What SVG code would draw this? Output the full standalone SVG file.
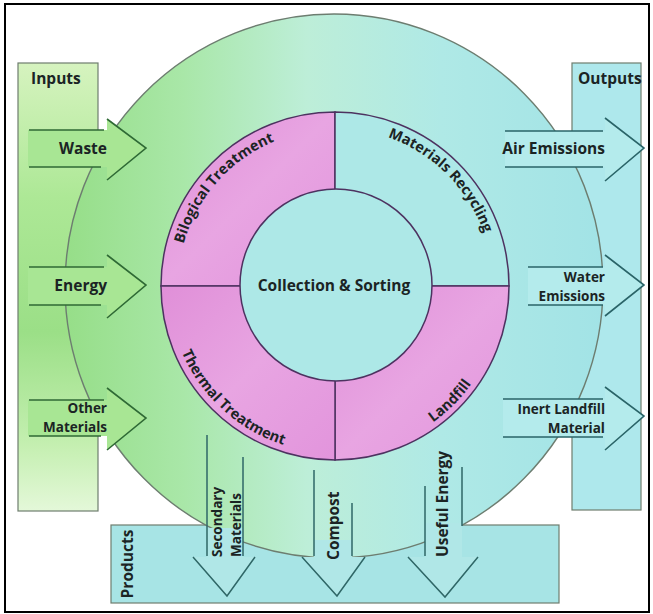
<svg xmlns="http://www.w3.org/2000/svg" width="653" height="614" viewBox="0 0 653 614">
<defs>
<linearGradient id="gIn" x1="0" y1="0" x2="0" y2="1">
<stop offset="0" stop-color="#d6f3bf"/><stop offset="0.3" stop-color="#ade896"/><stop offset="0.6" stop-color="#9bdf87"/><stop offset="0.85" stop-color="#c4efb0"/><stop offset="1" stop-color="#e4f8d9"/>
</linearGradient>
<linearGradient id="gCircle" x1="0" y1="0" x2="1" y2="0">
<stop offset="0" stop-color="#96de88"/><stop offset="0.22" stop-color="#a9e7a8"/><stop offset="0.45" stop-color="#bdeed8"/><stop offset="0.7" stop-color="#afe9e6"/><stop offset="1" stop-color="#a2e3e6"/>
</linearGradient>
<linearGradient id="gPink" x1="0" y1="0" x2="1" y2="1">
<stop offset="0" stop-color="#e08fd8"/><stop offset="0.5" stop-color="#e8a5e2"/><stop offset="1" stop-color="#e294dc"/>
</linearGradient>
<style>
text{font-family:"Open Sans","Noto Sans","Liberation Sans",sans-serif;font-weight:700;font-size:15.5px;fill:#1b2424}
.two{font-size:13.5px}
.rl{font-size:14.5px}
.col{stroke:#6e7d6e;stroke-width:1.2}
.inA{fill:#a8e694;stroke:none}
.inL{fill:none;stroke:#2f6a35;stroke-width:1.6}
.outA{fill:#b4ebec;stroke:none}
.outL{fill:none;stroke:#2a6468;stroke-width:1.6}
.botA{fill:#b0e7e7;stroke:none}
.botL{fill:none;stroke:#2f6767;stroke-width:1.5}
.ring{stroke:#4d3260;stroke-width:1.5}
.pink{fill:url(#gPink)}
.cyan{fill:#ade8e7}
</style>
<path id="pBio" d="M178,286 A157,157 0 0 1 335,129"/>
<path id="pMat" d="M335,128 A158,158 0 0 1 493,286"/>
<path id="pTher" d="M168,286 A167,167 0 0 0 335,453"/>
<path id="pLand" d="M335,454 A168,168 0 0 0 503,286"/>
</defs>
<rect x="0" y="0" width="653" height="614" fill="#ffffff"/>
<rect x="5" y="4" width="644" height="608" fill="none" stroke="#000" stroke-width="2"/>

<g id="inputs">
<rect class="col" x="18" y="63" width="80" height="448" fill="url(#gIn)"/>
<text x="31" y="84">Inputs</text>
</g>
<g id="outputs">
<rect class="col" x="572" y="63" width="69" height="447" fill="#aee8ec" stroke="#5f7a7c"/>
<text x="578" y="84">Outputs</text>
</g>
<g id="products">
<rect class="col" x="111" y="525" width="448" height="78" fill="#a7e4e5" stroke="#567878"/>
<text transform="translate(133,564) rotate(-90)" text-anchor="middle">Products</text>
</g>

<g id="system">
<ellipse cx="334" cy="286" rx="269" ry="272" fill="url(#gCircle)" stroke="#6d7d70" stroke-width="1.4"/>
</g>

<g id="treatment-ring">
<g id="biological-treatment">
<path class="pink ring" d="M335,286 L161,286 A174,174 0 0 1 335,112 Z"/>
<text class="rl"><textPath href="#pBio" startOffset="46%" text-anchor="middle">Bilogical Treatment</textPath></text>
</g>
<g id="materials-recycling">
<path class="cyan ring" d="M335,286 L335,112 A174,174 0 0 1 509,286 Z"/>
<text class="rl"><textPath href="#pMat" startOffset="50%" text-anchor="middle">Materials Recycling</textPath></text>
</g>
<g id="landfill">
<path class="pink ring" d="M335,286 L509,286 A174,174 0 0 1 335,460 Z"/>
<text class="rl"><textPath href="#pLand" startOffset="50%" text-anchor="middle">Landfill</textPath></text>
</g>
<g id="thermal-treatment">
<path class="pink ring" d="M335,286 L335,460 A174,174 0 0 1 161,286 Z"/>
<text class="rl"><textPath href="#pTher" startOffset="53%" text-anchor="middle">Thermal Treatment</textPath></text>
</g>
<g id="collection-sorting">
<circle class="cyan ring" cx="336" cy="285" r="96"/>
<text x="334" y="291" text-anchor="middle" font-size="16.5">Collection &amp; Sorting</text>
</g>
</g>

<g id="connectors">
<g id="arrow-waste">
<polygon class="inA" points="28,130 107,130 107,119 146,148 107,180 107,167 28,167"/>
<path class="inL" d="M29,130 H104 M29,167 H101 M107,119 L146,148 L107,180"/>
<text x="107" y="154" text-anchor="end">Waste</text>
</g>
<g id="arrow-energy">
<polygon class="inA" points="28,267 107,267 107,255 146,285 107,318 107,305 28,305"/>
<path class="inL" d="M29,267 H104 M29,305 H101 M107,255 L146,285 L107,318"/>
<text x="107" y="291" text-anchor="end">Energy</text>
</g>
<g id="arrow-other-materials">
<polygon class="inA" points="28,400 107,400 107,388 146,418 107,450 107,436 28,436"/>
<path class="inL" d="M29,400 H104 M29,436 H101 M107,388 L146,418 L107,450"/>
<text class="two" text-anchor="end"><tspan x="107" y="413">Other</tspan><tspan x="107" y="431.5">Materials</tspan></text>
</g>

<g id="arrow-air-emissions">
<polygon class="outA" points="505,131 605,131 605,118 644,148 605,181 605,167 505,167"/>
<path class="outL" d="M505,131 H603 M505,167 H603 M605,118 L644,148 L605,181"/>
<text x="605" y="154" text-anchor="end">Air Emissions</text>
</g>
<g id="arrow-water-emissions">
<polygon class="outA" points="528,267 605,267 605,255 644,285 605,316 605,305 528,305"/>
<path class="outL" d="M528,267 H603 M528,305 H603 M605,255 L644,285 L605,316"/>
<text class="two" text-anchor="end"><tspan x="605" y="282">Water</tspan><tspan x="605" y="300.5">Emissions</tspan></text>
</g>
<g id="arrow-inert-landfill">
<polygon class="outA" points="503,399 605,399 605,387 644,416 605,450 605,437 503,437"/>
<path class="outL" d="M503,399 H603 M503,437 H603 M605,387 L644,416 L605,450"/>
<text class="two" text-anchor="end"><tspan x="605" y="414">Inert Landfill</tspan><tspan x="605" y="432.5">Material</tspan></text>
</g>

<g id="arrow-secondary-materials">
<polygon class="botA" points="207,528 243,528 243,557 255,557 227,596 193,557 207,557"/>
<path class="botL" d="M207,435 V556 M243,457 V556 M193,557 L227,596 L255,557"/>
<text class="two" transform="translate(222,557) rotate(-90)"><tspan x="0" y="0">Secondary</tspan><tspan x="0" y="18.5">Materials</tspan></text>
</g>
<g id="arrow-compost">
<polygon class="botA" points="314,540 352,540 352,557 365,557 337,596 302,557 314,557"/>
<path class="botL" d="M314,470 V556 M352,503 V556 M302,557 L337,596 L365,557"/>
<text transform="translate(339,560) rotate(-90)">Compost</text>
</g>
<g id="arrow-useful-energy">
<polygon class="botA" points="425,523 462,523 462,557 478,557 445,597 408,557 425,557"/>
<path class="botL" d="M425,486 V556 M462,467 V526 M408,557 L445,597 L478,557"/>
<text transform="translate(448,557) rotate(-90)">Useful Energy</text>
</g>
</g>
</svg>
